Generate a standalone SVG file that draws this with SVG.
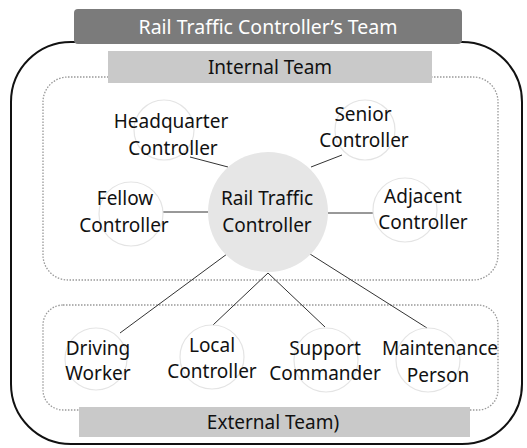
<svg xmlns="http://www.w3.org/2000/svg" width="527" height="448" viewBox="0 0 527 448">
<style>
text{font-family:"Noto Sans","Noto Sans CJK KR",sans-serif;font-size:19px;fill:#111;text-anchor:middle}
.node{fill:none;stroke:#e4e4e4;stroke-width:1.2}
.dot{fill:none;stroke:#999;stroke-width:1.3;stroke-dasharray:1.5 1.5}
.conn line{stroke:#333;stroke-width:1}
</style>
<rect x="0" y="0" width="527" height="448" fill="#fff"/>
<g id="outer">
<rect x="11" y="42" width="511" height="402" rx="60" ry="60" fill="none" stroke="#111" stroke-width="2"/>
</g>
<g id="internal-box"><rect class="dot" x="43" y="77" width="455" height="203" rx="25"/></g>
<g id="external-box"><rect class="dot" x="43" y="305" width="455" height="105" rx="20"/></g>
<g id="title">
<rect x="74" y="9" width="388" height="35" rx="4" fill="#7b7b7b"/>
<text x="268" y="34" style="fill:#fff;font-size:19.5px">Rail Traffic Controller’s Team</text>
</g>
<g id="internal-label">
<rect x="108" y="51" width="324" height="32" fill="#c9c9c9"/>
<text x="270" y="74">Internal Team</text>
</g>
<g id="external-label">
<rect x="79" y="407" width="391" height="30" fill="#c9c9c9"/>
<text x="273" y="429">External Team)</text>
</g>
<g class="conn" id="connectors">
<line x1="190" y1="157" x2="228" y2="167"/>
<line x1="342" y1="155" x2="311" y2="167"/>
<line x1="163" y1="212" x2="208" y2="212"/>
<line x1="328" y1="213" x2="373" y2="213"/>
<line x1="227" y1="254" x2="120" y2="333"/>
<line x1="268" y1="273" x2="213" y2="325"/>
<line x1="268" y1="273" x2="325" y2="327"/>
<line x1="310" y1="254" x2="427" y2="328"/>
</g>
<g id="rtc">
<circle cx="268" cy="212" r="60" fill="#e6e6e6"/>
<text x="267" y="205">Rail Traffic</text><text x="267" y="232">Controller</text>
</g>
<g id="headquarter">
<circle class="node" cx="164" cy="130" r="30"/>
<text x="171" y="128">Headquarter</text><text x="173" y="155">Controller</text>
</g>
<g id="senior">
<circle class="node" cx="365" cy="130" r="30"/>
<text x="363" y="121">Senior</text><text x="364" y="147">Controller</text>
</g>
<g id="fellow">
<circle class="node" cx="131" cy="214" r="32"/>
<text x="125" y="205">Fellow</text><text x="124" y="232">Controller</text>
</g>
<g id="adjacent">
<circle class="node" cx="405" cy="210" r="32"/>
<text x="423" y="203">Adjacent</text><text x="423" y="229">Controller</text>
</g>
<g id="driving">
<circle class="node" cx="96" cy="359" r="31"/>
<text x="98" y="355">Driving</text><text x="98" y="380">Worker</text>
</g>
<g id="local">
<circle class="node" cx="212" cy="357" r="32"/>
<text x="212" y="352">Local</text><text x="212" y="378">Controller</text>
</g>
<g id="support">
<circle class="node" cx="326" cy="360" r="32"/>
<text x="325" y="355">Support</text><text x="325" y="380">Commander</text>
</g>
<g id="maintenance">
<circle class="node" cx="428" cy="360" r="32"/>
<text x="440" y="355">Maintenance</text><text x="438" y="382">Person</text>
</g>
</svg>
